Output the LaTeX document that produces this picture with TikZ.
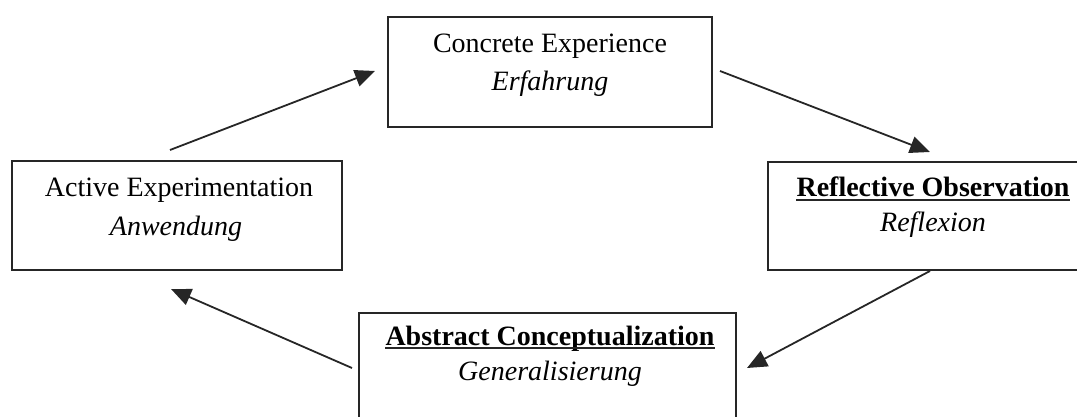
\documentclass[tikz,border=0pt]{standalone}
\usepackage{fontspec}
\setmainfont{Liberation Serif}
\usetikzlibrary{arrows.meta}
\tikzset{
  cyclebox/.style={draw=black!85, line width=1pt, inner sep=0pt, fill=none},
  lbl/.style={inner sep=0pt, anchor=base, font=\fontsize{14}{17}\selectfont},
  ulbl/.style={lbl, font=\fontsize{14}{17}\selectfont\bfseries},
  ital/.style={lbl, font=\fontsize{14}{17}\selectfont\itshape},
  arr/.style={line width=0.9pt, black!85, -{Triangle[length=10pt,width=8.5pt]}},
  uline/.style={line width=0.9pt, black!85}
}
\begin{document}
\begin{tikzpicture}[x=0.5pt,y=-0.5pt]
\useasboundingbox (0,0) rectangle (1077,417);
\clip (0,0) rectangle (1077,417);

% the four stages of the learning cycle
\node[cyclebox, minimum width=162pt, minimum height=55pt]   (ce) at (550,72)    {};
\node[cyclebox, minimum width=165pt, minimum height=54.5pt] (ae) at (177,215.5) {};
\node[cyclebox, minimum width=162pt, minimum height=54pt]   (ro) at (930,216)   {};
\node[cyclebox, minimum width=188.5pt, minimum height=55pt] (ac) at (547.5,368) {};

% labels
\node[lbl]  (ce1) at (550,53)  {Concrete Experience};
\node[ital] (ce2) at (550,91)  {Erfahrung};
\node[lbl]  (ae1) at (179,197) {Active Experimentation};
\node[ital] (ae2) at (176,235) {Anwendung};
\node[ulbl] (ro1) at (933,197) {Reflective Observation};
\node[ital] (ro2) at (933,232) {Reflexion};
\node[ulbl] (ac1) at (550,345) {Abstract Conceptualization};
\node[ital] (ac2) at (550,380) {Generalisierung};
\draw[uline] ([yshift=-1.6pt]ro1.base west) -- ([yshift=-1.6pt]ro1.base east);
\draw[uline] ([yshift=-1.6pt]ac1.base west) -- ([yshift=-1.6pt]ac1.base east);

% free ends of the cycle arrows
\coordinate (a1s) at (170,150);
\coordinate (a1e) at (375,71);
\coordinate (a2s) at (720,71);
\coordinate (a2e) at (930,152);
\coordinate (a3e) at (747,368);
\coordinate (a4s) at (352,368);
\coordinate (a4e) at (171,289);

\draw[arr] (a1s) -- (a1e);
\draw[arr] (a2s) -- (a2e);
\draw[arr] (ro.south) -- (a3e);
\draw[arr] (a4s) -- (a4e);
\end{tikzpicture}
\end{document}
